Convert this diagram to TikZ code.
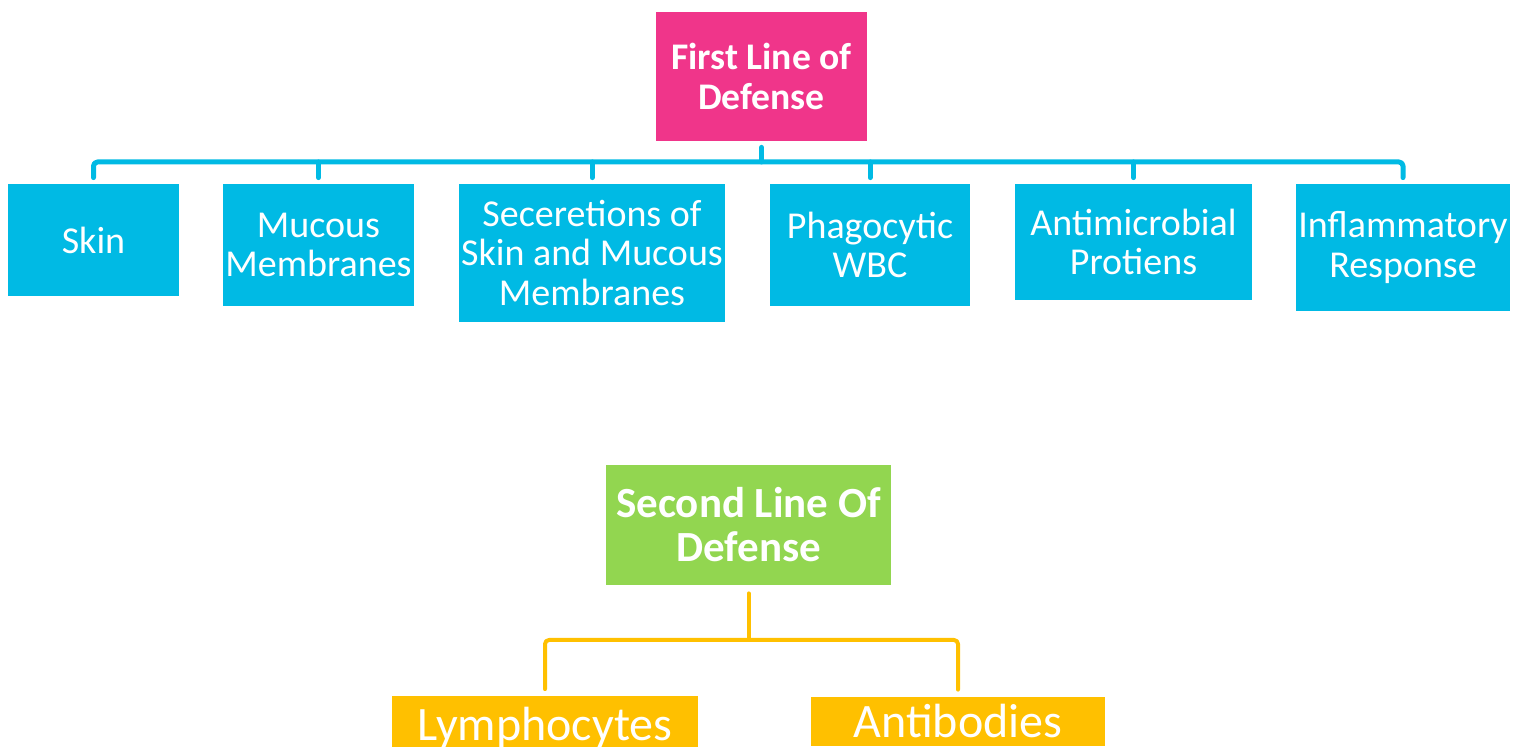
\documentclass[tikz,border=0pt]{standalone}
\usepackage{fontspec}
\setmainfont{Carlito}
\usepackage{tikz}
\usetikzlibrary{positioning}
\definecolor{defpink}{HTML}{F0358A}
\definecolor{defblue}{HTML}{00BAE4}
\definecolor{defgreen}{HTML}{92D650}
\definecolor{defyellow}{HTML}{FFC000}
\begin{document}
\begin{tikzpicture}[x=0.5pt,y=-0.5pt,line cap=round,line join=round,
  box/.style={inner sep=0pt,align=center,text=white},
  bluebox/.style={box,fill=defblue,font=\fontsize{19}{19.8}\selectfont},
  blueline/.style={draw=defblue,line width=2.5pt},
  yellowline/.style={draw=defyellow,line width=2pt}]
\useasboundingbox (0,0) rectangle (1520,747);
% first line
\node[box,fill=defpink,minimum width=105.5pt,minimum height=64.5pt,font=\bfseries\fontsize{18.8}{19.8}\selectfont] (first) at (761.5,76.5) {First Line of\\Defense};
\node[bluebox,minimum width=85.5pt,minimum height=56pt] (skin) at (93.5,240) {Skin};
\node[bluebox,minimum width=95.5pt,minimum height=61pt] (mucous) at (318.5,245) {Mucous\\Membranes};
\node[bluebox,minimum width=133pt,minimum height=69pt] (secr) at (592,253) {Seceretions of\\Skin and Mucous\\Membranes};
\node[bluebox,minimum width=100pt,minimum height=61pt] (phago) at (870,245) {Phagocytic\\WBC};
\node[bluebox,minimum width=118.5pt,minimum height=58pt] (antimic) at (1133.5,242) {Antimicrobial\\Protiens};
\node[bluebox,minimum width=107pt,minimum height=63.5pt] (inflam) at (1403,247.5) {Inflammatory\\Response};
\coordinate (bus) at (761.5,162);
\draw[blueline,rounded corners=2pt] ([yshift=3pt]skin.north) |- (bus) -| ([yshift=3pt]inflam.north);
\draw[blueline] ([yshift=-3pt]first.south) -- (bus);
\foreach \n in {mucous,secr,phago,antimic}
  \draw[blueline] ([yshift=3pt]\n.north) -- (\n.north |- bus);
% second line
\node[box,fill=defgreen,minimum width=142.5pt,minimum height=60pt,font=\bfseries\fontsize{21.5}{22}\selectfont] (second) at (748.5,525) {Second Line Of\\Defense};
\node[box,fill=defyellow,minimum width=153pt,minimum height=31pt,font=\fontsize{24}{26}\selectfont] (lymph) at (545,727.5) {Lymphocytes};
\node[box,fill=defyellow,minimum width=147pt,minimum height=24.5pt,font=\fontsize{24}{26}\selectfont] (antib) at (958,721.5) {Antibodies};
\coordinate (fork) at (748.5,640);
\draw[yellowline] ([yshift=-4pt]second.south) -- (fork);
\draw[yellowline,rounded corners=2pt] ([yshift=3.5pt]lymph.north) |- (fork) -| ([yshift=3.5pt]antib.north);
\end{tikzpicture}
\end{document}
